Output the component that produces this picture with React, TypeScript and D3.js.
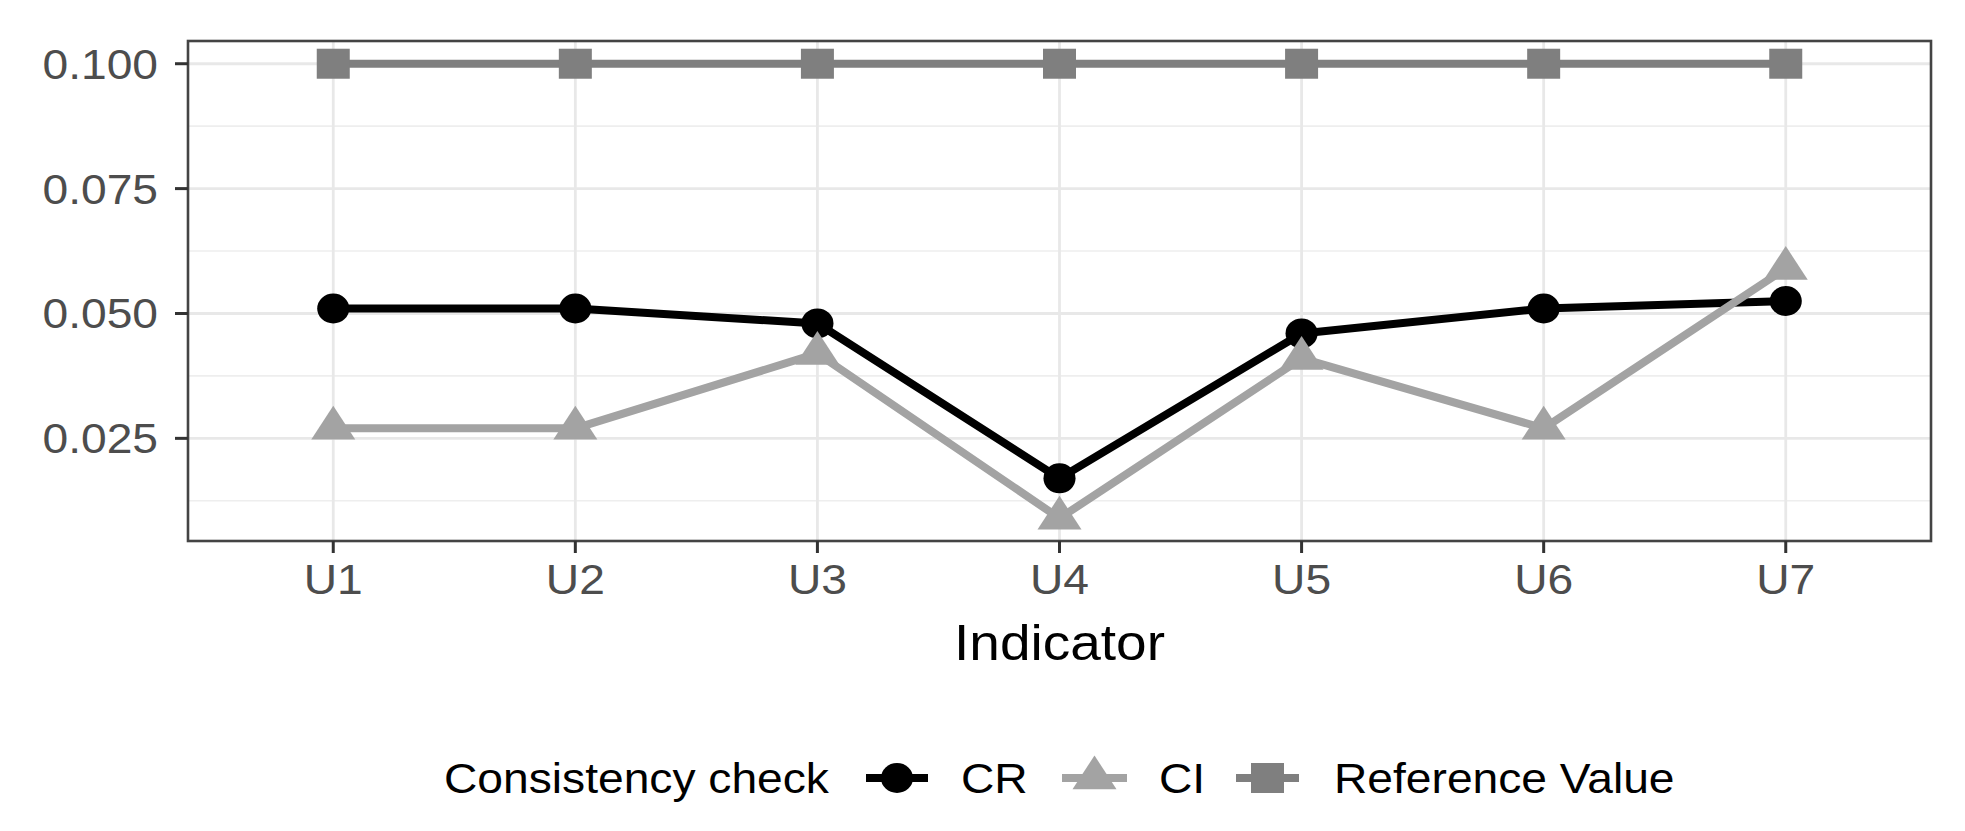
import React, { useEffect } from "react";
import * as d3 from "d3";

const categories = ["U1", "U2", "U3", "U4", "U5", "U6", "U7"];
const crValues = [0.051, 0.051, 0.048, 0.017, 0.046, 0.051, 0.0525];
const ciValues = [0.027, 0.027, 0.042, 0.009, 0.041, 0.027, 0.059];
const refValues = [0.1, 0.1, 0.1, 0.1, 0.1, 0.1, 0.1];
const yTicks = [0.025, 0.05, 0.075, 0.1];
const yMinor = [0.0125, 0.0375, 0.0625, 0.0875];
const seriesNames = ["CR", "CI", "Reference Value"];
const legendTitle = "Consistency check";
const xTitle = "Indicator";

const W = 1965;
const H = 831;
const SX = 1.1; // horizontal stretch of the reference
const FONT = "'Liberation Sans', Arial, Helvetica, sans-serif";

const panel = { left: 188, right: 1931, top: 41, bottom: 541 };

const colCR = "#000000";
const colCI = "#a3a3a3";
const colRef = "#7f7f7f";

function Marker({ shape, x, y, color }: { shape: string; x: number; y: number; color: string }) {
  if (shape === "circle") {
    return <ellipse cx={x} cy={y} rx={15 * 1.07} ry={15} fill={color} />;
  }
  if (shape === "square") {
    const h = 30;
    const w = 33;
    return <rect x={x - w / 2} y={y - h / 2} width={w} height={h} fill={color} />;
  }
  // triangle (R pch 17 style: apex at +r, base at -r/2)
  const r = 22.5;
  const hw = 22;
  const p = `M${x},${y - r} L${x + hw},${y + r / 2} L${x - hw},${y + r / 2} Z`;
  return <path d={p} fill={color} />;
}

function SText(props: any) {
  const { x, y, children, anchor, size, fill } = props;
  return (
    <text
      transform={`translate(${x},${y}) scale(${SX},1)`}
      textAnchor={anchor || "start"}
      fontSize={size}
      fill={fill || "#000"}
      fontFamily={FONT}
    >
      {children}
    </text>
  );
}

export default function App() {
  useEffect(() => {
    document.body.style.margin = "0";
  }, []);

  const x = d3.scalePoint<string>().domain(categories).range([panel.left, panel.right]).padding(0.6);
  const all = [...crValues, ...ciValues, ...refValues];
  const mn = d3.min(all) as number;
  const mx = d3.max(all) as number;
  const ex = (mx - mn) * 0.05;
  const y = d3.scaleLinear().domain([mn - ex, mx + ex]).range([panel.bottom, panel.top]);

  const line = d3
    .line<number>()
    .x((_, i) => x(categories[i]) as number)
    .y((d) => y(d));

  const series = [
    { name: seriesNames[0], values: crValues, color: colCR, shape: "circle" },
    { name: seriesNames[1], values: ciValues, color: colCI, shape: "triangle" },
    { name: seriesNames[2], values: refValues, color: colRef, shape: "square" },
  ];

  const lw = 8;

  // legend layout
  const legY = 778;
  const legend = [
    { keyL: 866, keyR: 928, textX: 961 },
    { keyL: 1062, keyR: 1127, textX: 1159 },
    { keyL: 1236, keyR: 1299, textX: 1334 },
  ];

  return (
    <svg width={W} height={H} style={{ position: "absolute", left: 0, top: 0, background: "#fff" }}>
      <rect x={0} y={0} width={W} height={H} fill="#ffffff" />
      {/* minor grid */}
      {yMinor.map((t) => (
        <line key={"mi" + t} x1={panel.left} x2={panel.right} y1={y(t)} y2={y(t)} stroke="#eeeeee" strokeWidth={1.6} />
      ))}
      {/* major grid */}
      {yTicks.map((t) => (
        <line key={"ma" + t} x1={panel.left} x2={panel.right} y1={y(t)} y2={y(t)} stroke="#e8e8e8" strokeWidth={2.8} />
      ))}
      {categories.map((c) => (
        <line key={"gx" + c} x1={x(c)} x2={x(c)} y1={panel.top} y2={panel.bottom} stroke="#e8e8e8" strokeWidth={2.8} />
      ))}
      {/* lines */}
      {series.map((s) => (
        <path key={"l" + s.name} d={line(s.values) as string} fill="none" stroke={s.color} strokeWidth={lw} strokeLinejoin="round" />
      ))}
      {/* points */}
      {series.map((s) =>
        s.values.map((v, i) => (
          <Marker key={s.name + i} shape={s.shape} x={x(categories[i]) as number} y={y(v)} color={s.color} />
        ))
      )}
      {/* panel border */}
      <rect
        x={panel.left}
        y={panel.top}
        width={panel.right - panel.left}
        height={panel.bottom - panel.top}
        fill="none"
        stroke="#444444"
        strokeWidth={2.6}
      />
      {/* y ticks */}
      {yTicks.map((t) => (
        <g key={"yt" + t}>
          <line x1={panel.left - 13} x2={panel.left} y1={y(t)} y2={y(t)} stroke="#333333" strokeWidth={3} />
          <SText x={panel.left - 30} y={y(t) + 15} anchor="end" size={42} fill="#4d4d4d">
            {d3.format(".3f")(t)}
          </SText>
        </g>
      ))}
      {/* x ticks */}
      {categories.map((c) => (
        <g key={"xt" + c}>
          <line x1={x(c)} x2={x(c)} y1={panel.bottom} y2={panel.bottom + 12} stroke="#333333" strokeWidth={3} />
          <SText x={x(c)} y={594} anchor="middle" size={42} fill="#4d4d4d">
            {c}
          </SText>
        </g>
      ))}
      {/* x title */}
      <SText x={(panel.left + panel.right) / 2} y={660} anchor="middle" size={50}>
        {xTitle}
      </SText>
      {/* legend */}
      <SText x={444} y={legY + 15} size={42}>
        {legendTitle}
      </SText>
      {series.map((s, i) => {
        const L = legend[i];
        const cx = (L.keyL + L.keyR) / 2;
        return (
          <g key={"lg" + s.name}>
            <line x1={L.keyL} x2={L.keyR} y1={legY} y2={legY} stroke={s.color} strokeWidth={lw} />
            <Marker shape={s.shape} x={cx} y={legY} color={s.color} />
            <SText x={L.textX} y={legY + 15} size={42}>
              {s.name}
            </SText>
          </g>
        );
      })}
    </svg>
  );
}
